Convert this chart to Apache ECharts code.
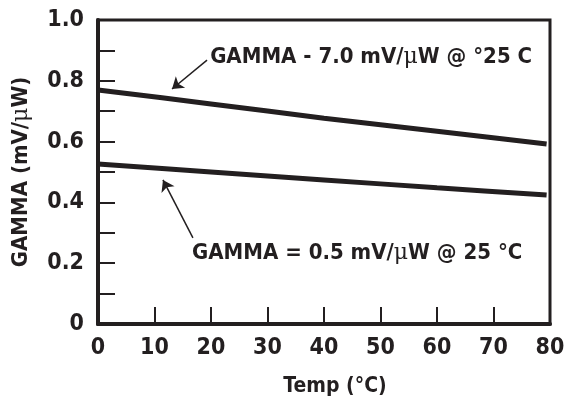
<!DOCTYPE html>
<html><head><meta charset="utf-8">
<script src="https://cdn.jsdelivr.net/npm/echarts@6/dist/echarts.min.js"></script>
<style>html,body{margin:0;padding:0;background:#fff}#c{width:571px;height:402px}</style>
</head><body><div id="c"></div>
<script>
// Data
const xTicks = [0, 10, 20, 30, 40, 50, 60, 70, 80];
const yTickLabels = ['0', '0.2', '0.4', '0.6', '0.8', '1.0'];
const temps = [0, 20, 40, 60, 79.4];
const gammaHigh = [0.770, 0.724, 0.677, 0.634, 0.592];
const gammaLow = [0.526, 0.500, 0.474, 0.448, 0.424];
const arrowHigh = [[19.3, 0.868], [13.1, 0.773]];
const arrowLow = [[16.8, 0.283], [11.5, 0.474]];
const labelHigh = 'GAMMA - 7.0 mV/{mu|μ}W @ °25 C';
const labelLow = 'GAMMA = 0.5 mV/{mu|μ}W @ 25 °C';

const FONT = "'Liberation Sans Narrow', 'DejaVu Sans Condensed', 'Arial Narrow', sans-serif";
const INK = '#231f20';
const muStyle = { fontFamily: "'DejaVu Serif', 'Liberation Serif', serif", fontWeight: 'normal', fontSize: 22, color: INK };

const chart = echarts.init(document.getElementById('c'), null, { renderer: 'canvas' });
const pairs = (xs, ys) => xs.map((x, i) => [x, ys[i]]);

chart.setOption({
  animation: false,
  backgroundColor: '#fff',
  grid: { left: 98, right: 21, top: 20, bottom: 78, show: true, borderColor: INK, borderWidth: 3 },
  xAxis: {
    type: 'value', min: 0, max: 80, interval: 10,
    name: 'Temp (°C)', nameLocation: 'middle', nameGap: 52,
    nameTextStyle: { fontFamily: FONT, fontWeight: 'bold', fontSize: 21, color: INK, padding: [0, 0, 0, 22] },
    axisLine: { lineStyle: { color: INK, width: 4 } },
    axisTick: { inside: true, length: 17, lineStyle: { color: INK, width: 2 } },
    splitLine: { show: false },
    axisLabel: { margin: 13, fontFamily: FONT, fontWeight: 'bold', fontSize: 23, color: INK,
      formatter: v => xTicks.includes(v) ? String(v) : '' }
  },
  yAxis: {
    type: 'value', min: 0, max: 1, interval: 0.1,
    name: 'GAMMA (mV/{mu|μ}W)', nameLocation: 'middle', nameGap: 66, nameRotate: 90,
    nameTextStyle: { fontFamily: FONT, fontWeight: 'bold', fontSize: 22, color: INK, rich: { mu: muStyle } },
    axisLine: { lineStyle: { color: INK, width: 4 } },
    axisTick: { inside: true, length: 17, lineStyle: { color: INK, width: 2 } },
    splitLine: { show: false },
    axisLabel: { margin: 14, fontFamily: FONT, fontWeight: 'bold', fontSize: 23, color: INK,
      formatter: v => {
        const k = Math.round(v * 10);
        if (k % 2) return '';
        return yTickLabels[k / 2];
      } }
  },
  series: [
    {
      type: 'line', data: pairs(temps, gammaHigh), smooth: 0.3, symbol: 'none',
      lineStyle: { color: INK, width: 5 },
      markLine: {
        silent: true, symbol: ['none', 'arrow'], symbolSize: 11,
        lineStyle: { color: INK, width: 1.5, type: 'solid' },
        itemStyle: { color: INK },
        label: { show: true, position: 'start', formatter: labelHigh, distance: 4,
          fontFamily: FONT, fontWeight: 'bold', fontSize: 22, color: INK, rich: { mu: muStyle },
          align: 'left', verticalAlign: 'middle', offset: [0, 0] },
        data: [[{ coord: arrowHigh[0] }, { coord: arrowHigh[1] }]]
      }
    },
    {
      type: 'line', data: pairs(temps, gammaLow), smooth: 0.3, symbol: 'none',
      lineStyle: { color: INK, width: 5 },
      markLine: {
        silent: true, symbol: ['none', 'arrow'], symbolSize: 11,
        lineStyle: { color: INK, width: 1.5, type: 'solid' },
        itemStyle: { color: INK },
        label: { show: false },
        data: [[{ coord: arrowLow[0] }, { coord: arrowLow[1] }]]
      }
    }
  ],
  graphic: [
    { type: 'text', left: 192, top: 242,
      style: { text: labelLow, font: "bold 22px " + FONT, fill: INK, rich: { mu: muStyle } } }
  ]
});
</script></body></html>
